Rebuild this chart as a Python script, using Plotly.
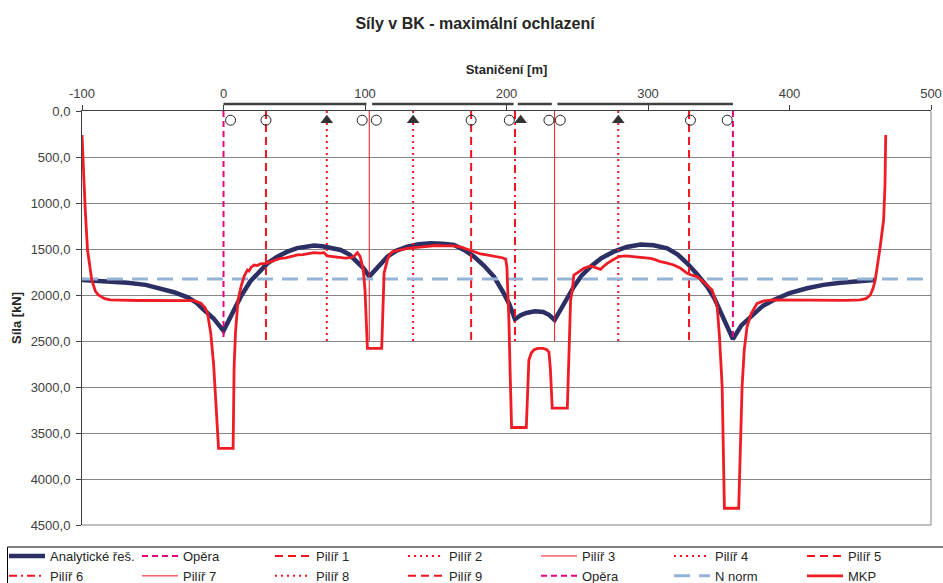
import plotly.graph_objects as go

# ---------------- data ----------------
analytic_x = [-100, -85, -67.8, -55, -44.3, -35, -25.4, -19, -13.7, -7, 0, 6, 12.2, 19, 26.3, 31, 38, 45.2, 52, 58,
              64, 70, 77, 82.8, 89, 94.6, 99, 103, 109, 115.8, 122, 129.9, 138, 146.4, 155, 162.9, 170, 177, 184,
              191.1, 198, 202, 206, 210, 214, 220, 226, 230, 234, 241, 247.6, 253, 259.4, 267, 275.8, 285, 294.7,
              304, 313.6, 321, 327.7, 335, 341.8, 347, 352, 356, 360, 366, 374.7, 381, 388.8, 400, 412.4, 424, 436,
              448, 460]
analytic_y = [1837, 1850, 1866, 1890, 1927, 1970, 2025, 2085, 2163, 2255, 2390, 2200, 2018, 1850, 1728, 1656, 1585,
              1529, 1490, 1470, 1462, 1470, 1488, 1511, 1560, 1638, 1710, 1800, 1690, 1583, 1520, 1475, 1448, 1437,
              1442, 1457, 1510, 1583, 1680, 1800, 1980, 2100, 2264, 2220, 2195, 2178, 2185, 2215, 2272, 2080, 1909,
              1790, 1692, 1600, 1529, 1478, 1452, 1460, 1493, 1560, 1656, 1780, 1909, 2040, 2200, 2330, 2480, 2330,
              2199, 2120, 2054, 1980, 1927, 1890, 1866, 1848, 1837]

mkp_x = [-100, -99, -97.7, -96.1, -93.1, -90.5, -88.4, -84, -80, -60, -40, -20.8, -16, -13, -11.3, -9, -7, -5.4,
         -3.5, 6.8, 7.5, 8.5, 10.3, 12.4, 14.5, 16.9, 18, 19.5, 21.6, 24, 26, 29.9, 33, 36, 40.5, 44, 48, 52.3, 56,
         60, 64, 68, 71, 73.4, 77, 82, 86, 90, 92.2, 94.6, 96.5, 97.5, 98.8, 100, 101, 101.7, 111.8, 112.3, 112.7,
         113.5, 115.8, 117.5, 119.3, 124, 129.9, 135, 140, 144, 150, 156, 162.9, 168, 172, 174.6, 178, 181.7, 186,
         190, 193.5, 197, 199.4, 200.3, 200.6, 201.7, 202.5, 203.6, 214, 214.8, 215.8, 217.5, 219.3, 222, 226,
         228.5, 230, 231, 232.3, 243, 244, 245.3, 246.5, 247.6, 250, 254.7, 259.4, 263, 266.5, 268.5, 271.2, 275,
         279.4, 284, 290, 296, 301.8, 305, 308.8, 313, 318.2, 323, 327.7, 331, 334.7, 338, 341.8, 345.3, 347.5,
         348.9, 350.5, 352.4, 354, 364.1, 366.5, 368, 370, 373, 377.1, 382, 388.8, 400, 420, 440, 450, 454, 457.1,
         459, 460.6, 462.5, 464.1, 466.5, 467.5, 468]
mkp_y = [261, 714, 1076, 1511, 1837, 1960, 2000, 2040, 2054, 2060, 2062, 2062, 2090, 2140, 2199, 2417, 2750, 3141,
         3667, 3667, 2779, 2400, 2054, 1910, 1800, 1728, 1740, 1700, 1674, 1680, 1662, 1656, 1640, 1628, 1601, 1596,
         1580, 1565, 1560, 1548, 1540, 1545, 1540, 1575, 1580, 1590, 1600, 1595, 1580, 1540, 1580, 1640, 1728, 1946,
         2272, 2580, 2580, 2300, 1946, 1760, 1620, 1560, 1529, 1510, 1493, 1485, 1475, 1467, 1462, 1465, 1467, 1480,
         1500, 1518, 1535, 1554, 1565, 1575, 1583, 1595, 1610, 1700, 1837, 2272, 2800, 3440, 3440, 3050, 2707, 2630,
         2598, 2580, 2580, 2595, 2620, 2800, 3230, 3230, 2700, 2054, 1946, 1783, 1760, 1710, 1685, 1700, 1721, 1690,
         1656, 1620, 1583, 1575, 1583, 1590, 1601, 1615, 1638, 1650, 1674, 1710, 1764, 1785, 1800, 1840, 1891, 1946,
         2050, 2127, 2450, 2996, 4318, 4318, 2996, 2600, 2345, 2200, 2091, 2065, 2054, 2056, 2058, 2058, 2054, 2040,
         2000, 1930, 1837, 1660, 1475, 1185, 800, 261]

n_norm_x = [-100, 500]
n_norm_y = [1825, 1825]

abutment_names = ["Opěra", "Opěra"]
abutment_x = [0, 360]
pier_names = ["Pilíř 1", "Pilíř 2", "Pilíř 3", "Pilíř 4", "Pilíř 5", "Pilíř 6", "Pilíř 7", "Pilíř 8", "Pilíř 9"]
pier_x = [30, 73, 103, 134, 175, 206, 234, 279, 329]
support_line_y = [0, 2500]

bearing_free_x = [5, 30, 98, 108, 175, 202, 230, 238, 330, 356]
bearing_fixed_x = [73, 134, 210, 279]
bearing_y = 100

deck_start = [0, 105, 208, 236]
deck_end = [101, 205, 232, 360]

x_tickvals = [-100, 0, 100, 200, 300, 400, 500]
x_ticktext = ["-100", "0", "100", "200", "300", "400", "500"]
y_tickvals = [0, 500, 1000, 1500, 2000, 2500, 3000, 3500, 4000, 4500]

# ---------------- styles ----------------
NAVY = "#2B2F64"
RED = "#EE1C25"
PIER_RED = "#F0141E"
MAGENTA = "#E6007E"
BLUE = "#95B3D7"
FONT = "Liberation Sans, Arial, sans-serif"

pier_dash = ["dash", "dot", "solid", "dot", "dash", "dashdot", "solid", "dot", "dash"]
pier_width = [2, 2, 1, 2, 2, 2, 1, 2, 2]

fig = go.Figure()

fig.add_trace(go.Scatter(x=analytic_x, y=analytic_y, mode="lines", name="Analytické řeš.",
                         line=dict(color=NAVY, width=4.5)))
fig.add_trace(go.Scatter(x=[abutment_x[0]] * 2, y=support_line_y, mode="lines", name=abutment_names[0],
                         line=dict(color=MAGENTA, width=2, dash="6px,4px")))
for nm, px, ds, w in zip(pier_names, pier_x, pier_dash, pier_width):
    d = {"dash": "8px,5px", "dot": "2px,4px", "dashdot": "8px,4px,2px,4px"}.get(ds, ds)
    fig.add_trace(go.Scatter(x=[px] * 2, y=support_line_y, mode="lines", name=nm,
                             line=dict(color=PIER_RED, width=w, dash=d)))
fig.add_trace(go.Scatter(x=[abutment_x[1]] * 2, y=support_line_y, mode="lines", name=abutment_names[1],
                         line=dict(color=MAGENTA, width=2, dash="6px,4px")))
fig.add_trace(go.Scatter(x=n_norm_x, y=n_norm_y, mode="lines", name="N norm",
                         line=dict(color=BLUE, width=3, dash="16px,9px")))
fig.add_trace(go.Scatter(x=mkp_x, y=mkp_y, mode="lines", name="MKP",
                         line=dict(color=RED, width=2.8)))

# bearings (not in legend)
fig.add_trace(go.Scatter(x=bearing_free_x, y=[bearing_y] * len(bearing_free_x), mode="markers",
                         showlegend=False, cliponaxis=False,
                         marker=dict(symbol="circle-open", size=10, color="#222222", line=dict(width=1))))
fig.add_trace(go.Scatter(x=bearing_fixed_x, y=[bearing_y] * len(bearing_fixed_x), mode="markers",
                         showlegend=False, cliponaxis=False,
                         marker=dict(symbol="triangle-up", size=11, color="#333333")))

shapes = []
for a, b in zip(deck_start, deck_end):
    shapes.append(dict(type="line", xref="x", yref="paper", x0=a, x1=b, y0=1.017, y1=1.017,
                       line=dict(color="#404040", width=2.5)))
shapes.append(dict(type="line", xref="paper", yref="paper", x0=1, x1=1, y0=0, y1=1,
                   line=dict(color="#8C7F7A", width=1)))
shapes.append(dict(type="line", xref="paper", yref="paper", x0=0, x1=1, y0=0, y1=0,
                   line=dict(color="#808080", width=1)))
# legend frame
shapes.append(dict(type="rect", xref="paper", yref="paper",
                   x0=(7.5 - 82) / 849, x1=(960 - 82) / 849,
                   y0=(525 - 547) / 414, y1=(525 - 600) / 414,
                   line=dict(color="#000000", width=1), fillcolor="rgba(0,0,0,0)"))

fig.update_layout(
    width=943, height=583,
    margin=dict(l=82, r=12, t=111, b=58, autoexpand=False),
    paper_bgcolor="white", plot_bgcolor="white",
    separators=", ",
    font=dict(family=FONT, size=13, color="#404040"),
    title=dict(text="<b>Síly v BK - maximální ochlazení</b>", x=475 / 943, xanchor="center",
               xref="container", y=1 - 23 / 583, yanchor="middle", yref="container",
               font=dict(family=FONT, size=16, color="#262626")),
    shapes=shapes,
    showlegend=True,
    legend=dict(orientation="h", x=(4 - 82) / 849, xanchor="left", y=(525 - 541) / 414, yanchor="top",
                borderwidth=0, bgcolor="rgba(0,0,0,0)", itemwidth=36,
                entrywidth=82, entrywidthmode="pixels",
                font=dict(family=FONT, size=13, color="#262626"), traceorder="normal"),
)

fig.update_xaxes(
    range=[-100, 500], side="top", tickvals=x_tickvals, ticktext=x_ticktext,
    showline=True, linecolor="#404040", linewidth=1, ticks="outside", ticklen=5, tickcolor="#404040",
    showgrid=False, zeroline=False, ticklabelstandoff=2,
    title=dict(text="<b>Staničení [m]</b>", font=dict(family=FONT, size=13, color="#262626"), standoff=8),
    tickfont=dict(family=FONT, size=13, color="#404040"),
)
fig.update_yaxes(
    range=[4500, 0], tickvals=y_tickvals, tickformat=".1f",
    showline=True, linecolor="#404040", linewidth=1, ticks="outside", ticklen=5, tickcolor="#404040",
    showgrid=True, gridcolor="#858585", gridwidth=1, zeroline=False, ticklabelstandoff=3,
    title=dict(text="<b>Síla [kN]</b>", font=dict(family=FONT, size=13, color="#262626"), standoff=6),
    tickfont=dict(family=FONT, size=13, color="#404040"),
)

fig.write_html("out.html")
